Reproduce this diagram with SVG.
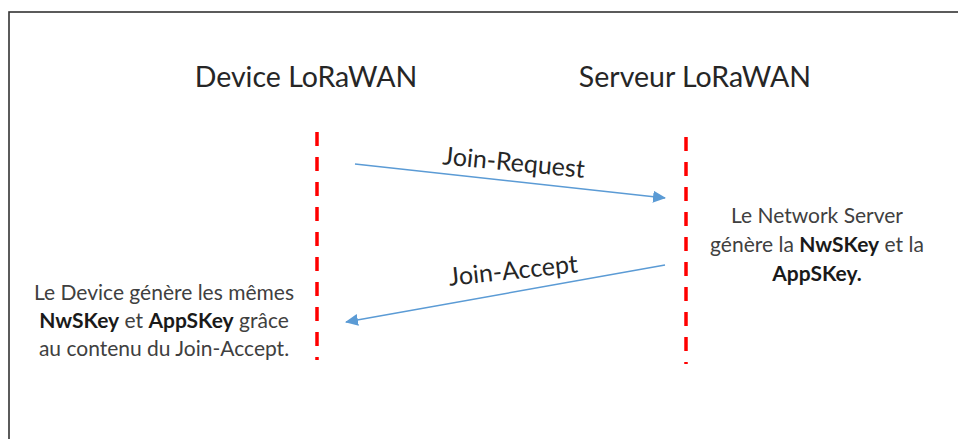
<svg xmlns="http://www.w3.org/2000/svg" width="958" height="439" viewBox="0 0 958 439">
  <defs>
    <marker id="arrow" markerWidth="13" markerHeight="12" refX="12" refY="6" orient="auto" markerUnits="userSpaceOnUse">
      <path d="M0,0 L13,6 L0,12 Z" fill="#5B9BD5"/>
    </marker>
    <style>
      .frame { fill: none; stroke: #333; stroke-width: 1.6; }
      .life { stroke: #FF0000; stroke-width: 3.5; stroke-dasharray: 14 11; fill: none; }
      .msg { stroke: #5B9BD5; stroke-width: 1.5; fill: none; marker-end: url(#arrow); }
      .title { font-family: Lato, "Open Sans", sans-serif; font-size: 28.5px; fill: #262626; text-anchor: middle; }
      .label { font-family: Lato, "Open Sans", sans-serif; font-size: 25px; fill: #262626; text-anchor: middle; }
      .note { font-family: Lato, "Open Sans", sans-serif; font-size: 21px; fill: #404040; text-anchor: middle; }
      .note .b { font-weight: bold; fill: #1a1a1a; }
    </style>
  </defs>

  <rect width="958" height="439" fill="#fff"/>
  <rect class="frame" x="9" y="12" width="960" height="440"/>

  <g id="device">
    <text class="title" x="306" y="87">Device LoRaWAN</text>
    <line class="life" x1="317" y1="132" x2="317" y2="360"/>
    <text class="note" x="164" y="300">Le Device génère les mêmes</text>
    <text class="note" x="164" y="328"><tspan class="b">NwSKey</tspan> et <tspan class="b">AppSKey</tspan> grâce</text>
    <text class="note" x="164" y="356">au contenu du Join-Accept.</text>
  </g>

  <g id="server">
    <text class="title" x="695" y="87">Serveur LoRaWAN</text>
    <line class="life" x1="686" y1="137" x2="686" y2="364"/>
    <text class="note" x="817" y="223">Le Network Server</text>
    <text class="note" x="817" y="252">génère la <tspan class="b">NwSKey</tspan> et la</text>
    <text class="note" x="817" y="281"><tspan class="b">AppSKey.</tspan></text>
  </g>

  <g id="connectors">
    <line class="msg" x1="355" y1="164" x2="665" y2="198"/>
    <text class="label" x="513" y="171" transform="rotate(5.5 513 171)">Join-Request</text>
    <line class="msg" x1="665" y1="265" x2="346" y2="322"/>
    <text class="label" x="514" y="279" transform="rotate(-6 514 279)">Join-Accept</text>
  </g>
</svg>
